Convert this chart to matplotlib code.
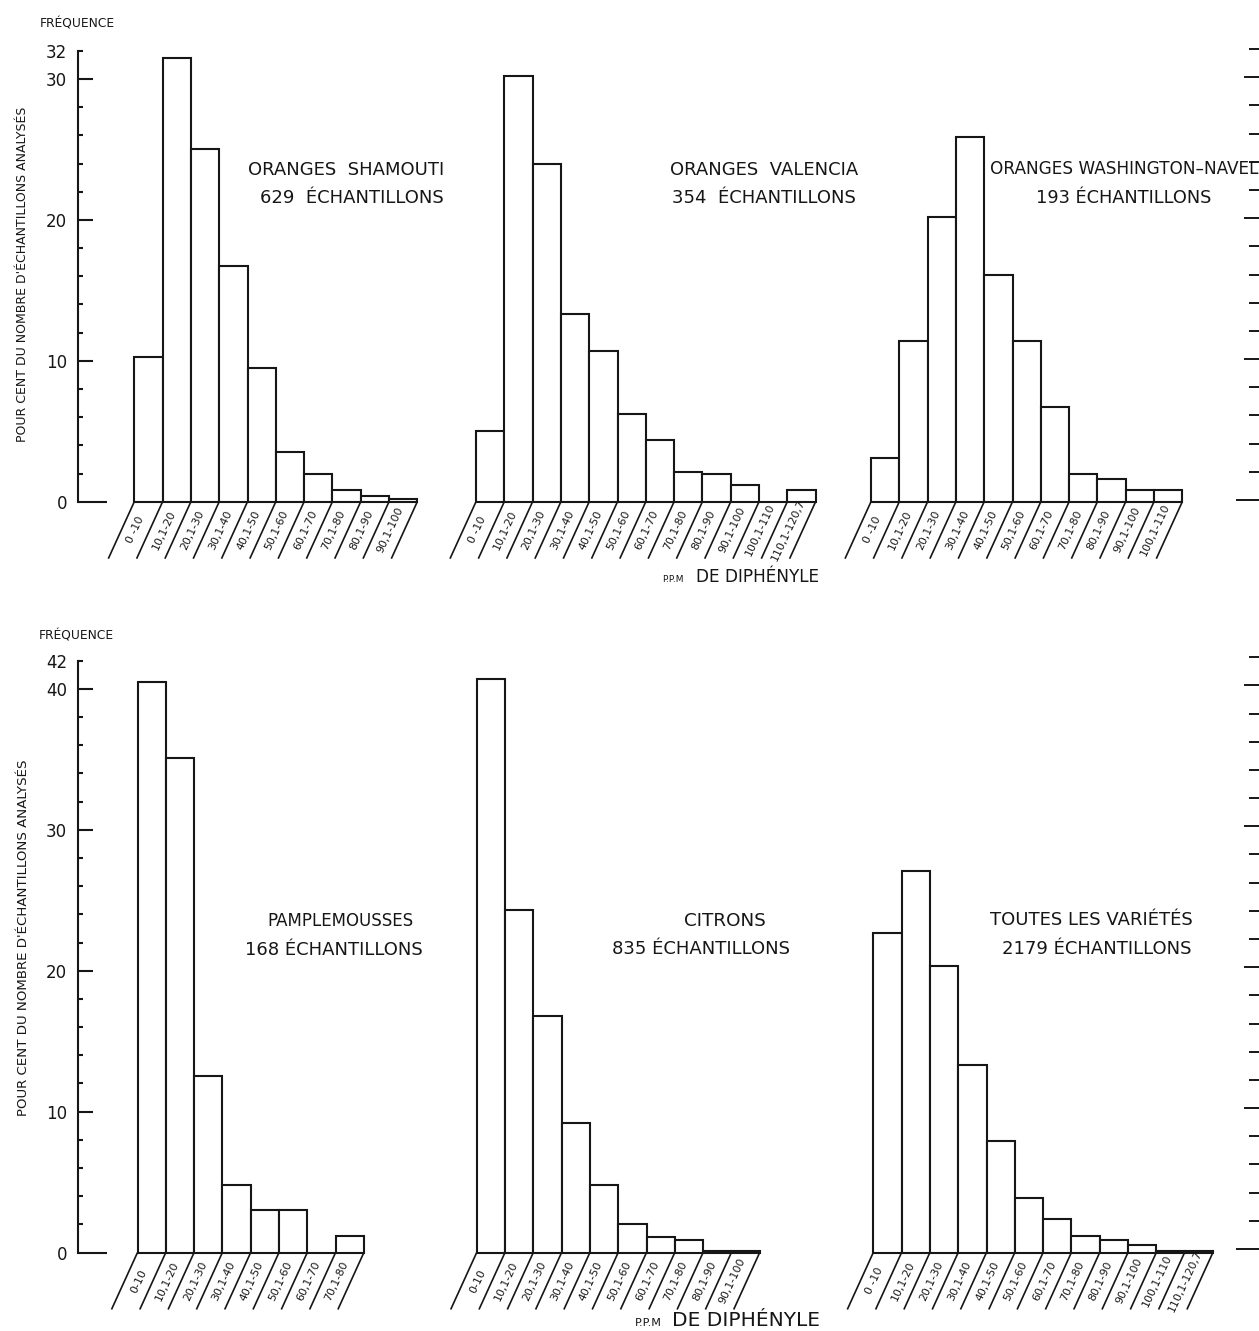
import matplotlib
matplotlib.use("Agg")
import matplotlib.pyplot as plt

# ---------------- data (percent of analysed samples) ----------------
labels_shamouti = ["0 -10", "10,1-20", "20,1-30", "30,1-40", "40,1-50", "50,1-60",
                   "60,1-70", "70,1-80", "80,1-90", "90,1-100"]
values_shamouti = [10.3, 31.5, 25.0, 16.7, 9.5, 3.5, 2.0, 0.8, 0.4, 0.2]

labels_valencia = ["0 -10", "10,1-20", "20,1-30", "30,1-40", "40,1-50", "50,1-60",
                   "60,1-70", "70,1-80", "80,1-90", "90,1-100", "100,1-110", "110,1-120,7"]
values_valencia = [5.0, 30.2, 24.0, 13.3, 10.7, 6.2, 4.4, 2.1, 2.0, 1.2, 0.0, 0.8]

labels_navel = ["0 -10", "10,1-20", "20,1-30", "30,1-40", "40,1-50", "50,1-60",
                "60,1-70", "70,1-80", "80,1-90", "90,1-100", "100,1-110"]
values_navel = [3.1, 11.4, 20.2, 25.9, 16.1, 11.4, 6.7, 2.0, 1.6, 0.8, 0.8]

labels_pamplemousses = ["0-10", "10,1-20", "20,1-30", "30,1-40", "40,1-50", "50,1-60",
                        "60,1-70", "70,1-80"]
values_pamplemousses = [40.5, 35.1, 12.5, 4.8, 3.0, 3.0, 0.0, 1.2]

labels_citrons = ["0-10", "10,1-20", "20,1-30", "30,1-40", "40,1-50", "50,1-60",
                  "60,1-70", "70,1-80", "80,1-90", "90,1-100"]
values_citrons = [40.7, 24.3, 16.8, 9.2, 4.8, 2.0, 1.1, 0.9, 0.1, 0.1]

labels_toutes = ["0 -10", "10,1-20", "20,1-30", "30,1-40", "40,1-50", "50,1-60",
                 "60,1-70", "70,1-80", "80,1-90", "90,1-100", "100,1-110", "110,1-120,7"]
values_toutes = [22.7, 27.1, 20.3, 13.3, 7.9, 3.9, 2.4, 1.2, 0.9, 0.5, 0.1, 0.1]

titles = [("ORANGES  SHAMOUTI", "629  ÉCHANTILLONS"),
          ("ORANGES  VALENCIA", "354  ÉCHANTILLONS"),
          ("ORANGES WASHINGTON–NAVEL", "193 ÉCHANTILLONS"),
          ("PAMPLEMOUSSES", "168 ÉCHANTILLONS"),
          ("CITRONS", "835 ÉCHANTILLONS"),
          ("TOUTES LES VARIÉTÉS", "2179 ÉCHANTILLONS")]

ylabel_text = "POUR CENT DU NOMBRE D'ÉCHANTILLONS ANALYSÉS"
freq_text = "FRÉQUENCE"
ppm_small = "P.P.M"
ppm_text = "DE DIPHÉNYLE"

# ---------------- layout (pixels of a 1259x1331 canvas) ----------------
W, H, DPI = 1259, 1331, 100
UX, UY = 28.3, 14.09          # px per bin, px per percent
INK = "#161616"
plt.rcParams["font.family"] = ["DejaVu Sans"]

fig = plt.figure(figsize=(W / DPI, H / DPI), dpi=DPI)
fig.patch.set_facecolor("white")

panels = [
    # values, labels, x0, baseline, ymax, axis_x, title pos (l1x,l1y,l2x,l2y,fs1,fs2)
    (values_shamouti, labels_shamouti, 134.3, 501.7, 32, 78.3, (346, 170, 352, 198, 13, 13)),
    (values_valencia, labels_valencia, 476.0, 501.7, 32, None, (764, 170, 764, 198, 13, 13)),
    (values_navel, labels_navel, 871.0, 501.7, 32, None, (1124, 169, 1124, 198, 12.2, 12.8)),
    (values_pamplemousses, labels_pamplemousses, 137.5, 1252.5, 42, 78.3, (340, 921, 334, 950, 12, 13)),
    (values_citrons, labels_citrons, 476.7, 1252.5, 42, None, (725, 921, 701, 949, 13.2, 13)),
    (values_toutes, labels_toutes, 873.3, 1252.5, 42, None, (1091, 920, 1097, 949, 13, 13)),
]

DX, DY = -26.0 / UX, -57.0 / UY   # slant of the category separators (data units)

for k, (vals, labs, x0, base, ymax, axis_x, tpos) in enumerate(panels):
    n = len(vals)
    xlo = 0.0 if axis_x is None else (axis_x - x0) / UX
    left_px = x0 + xlo * UX
    ax = fig.add_axes([left_px / W, 1 - base / H, (n - xlo) * UX / W, ymax * UY / H])
    ax.set_xlim(xlo, n)
    ax.set_ylim(0, ymax)
    ax.patch.set_alpha(0)
    for s in ax.spines.values():
        s.set_visible(False)
    ax.set_xticks([])

    bars = ax.bar(range(n), vals, width=1.0, align="edge", facecolor="white",
                  edgecolor=INK, linewidth=1.5)
    for b in bars:
        b.set_clip_on(False)

    # slanted separators and rotated class labels
    for i in range(n + 1):
        ax.plot([i, i + DX], [0, DY], color=INK, lw=1.2, clip_on=False,
                solid_capstyle="butt")
    for i, lab in enumerate(labs):
        ax.text(i + 0.5 + DX / 2, DY / 2, lab, rotation=65, rotation_mode="anchor",
                ha="center", va="center", fontsize=7.9, color=INK, clip_on=False)

    if axis_x is not None:
        ax.spines["left"].set_visible(True)
        ax.spines["left"].set_bounds(0, ymax)
        ax.spines["left"].set_linewidth(1.5)
        ax.spines["left"].set_color(INK)
        majors = [v for v in range(0, ymax, 10)] + [ymax]
        ax.set_yticks(majors)
        ax.set_yticklabels([str(v) for v in majors])
        ax.set_yticks([v for v in range(2, ymax, 2) if v % 10 != 0], minor=True)
        ax.tick_params(axis="y", which="major", direction="in", length=10.5, width=1.5,
                       labelsize=12, pad=8, colors=INK)
        ax.tick_params(axis="y", which="minor", direction="in", length=3.8, width=1.5,
                       colors=INK)
        mt = ax.yaxis.get_major_ticks()
        mt[0].tick1line.set_markersize(21)
        mt[-1].tick1line.set_markersize(3.8)
    else:
        ax.set_yticks([])

    l1x, l1y, l2x, l2y, fs1, fs2 = tpos
    fig.text(l1x / W, 1 - l1y / H, titles[k][0], ha="center", va="center",
             fontsize=fs1, color=INK)
    fig.text(l2x / W, 1 - l2y / H, titles[k][1], ha="center", va="center",
             fontsize=fs2, color=INK)

# axis titles
fig.text(23 / W, 1 - 274 / H, ylabel_text, rotation=90, ha="center", va="center",
         fontsize=9.0, color=INK)
fig.text(24 / W, 1 - 938 / H, ylabel_text, rotation=90, ha="center", va="center",
         fontsize=9.6, color=INK)
fig.text(77 / W, 1 - 24 / H, freq_text, ha="center", va="center", fontsize=8.8, color=INK)
fig.text(76 / W, 1 - 636 / H, freq_text, ha="center", va="center", fontsize=8.8, color=INK)

fig.text(662 / W, 1 - 582 / H, ppm_small, ha="left", va="baseline", fontsize=6.5, color=INK)
fig.text(696 / W, 1 - 582 / H, ppm_text, ha="left", va="baseline", fontsize=12.2, color=INK)
fig.text(635 / W, 1 - 1326 / H, ppm_small, ha="left", va="baseline", fontsize=8, color=INK)
fig.text(672 / W, 1 - 1326 / H, ppm_text, ha="left", va="baseline", fontsize=14.5, color=INK)

# scale of the neighbouring figure bleeding in at the right edge
for base, ymax in [(500.0, 32), (1249.0, 42)]:
    bx = fig.add_axes([1261 / W, 1 - base / H, 0.01, ymax * UY / H])
    bx.set_ylim(0, ymax)
    bx.patch.set_alpha(0)
    for s in bx.spines.values():
        s.set_visible(False)
    bx.set_xticks([])
    bx.set_yticks(list(range(0, ymax + 1, 10)))
    bx.set_yticklabels([])
    bx.set_yticks([v for v in range(2, ymax + 1, 2) if v % 10 != 0], minor=True)
    bx.tick_params(axis="y", which="major", direction="out", length=12, width=1.4, colors=INK)
    bx.tick_params(axis="y", which="minor", direction="out", length=9, width=1.4, colors=INK)
    bx.yaxis.get_major_ticks()[0].tick1line.set_markersize(18)

fig.savefig("out.png", dpi=DPI, facecolor="white")
